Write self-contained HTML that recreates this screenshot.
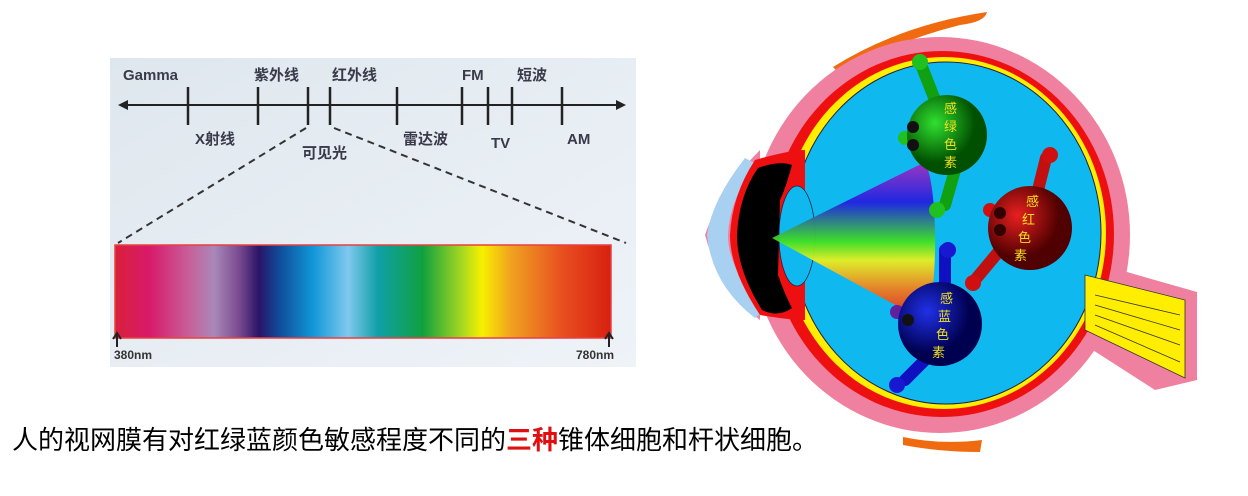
<!DOCTYPE html>
<html><head><meta charset="utf-8"><style>
html,body{margin:0;padding:0;background:#fff;width:1248px;height:496px;overflow:hidden}
svg{position:absolute;left:0;top:0}
.cap{position:absolute;left:12px;top:420px;font:26px "Liberation Sans","Noto Sans CJK SC",sans-serif;color:#000;white-space:nowrap;letter-spacing:0px}
.cap b{color:#e01010}
</style></head><body>
<svg width="1248" height="496" viewBox="0 0 1248 496">
<defs>
<linearGradient id="bg" x1="0" y1="0" x2="1" y2="1"><stop offset="0" stop-color="#dfe7ee"/><stop offset="1" stop-color="#eef3f8"/></linearGradient>
<linearGradient id="spec" x1="0" x2="1">
<stop offset="0" stop-color="#d8203a"/><stop offset=".07" stop-color="#d81a6a"/><stop offset=".15" stop-color="#c8609a"/><stop offset=".2" stop-color="#a888b8"/><stop offset=".25" stop-color="#7a4a90"/><stop offset=".29" stop-color="#2a1468"/><stop offset=".33" stop-color="#104a98"/><stop offset=".4" stop-color="#1098d8"/><stop offset=".47" stop-color="#80c8ee"/><stop offset=".53" stop-color="#10a0a8"/><stop offset=".62" stop-color="#10a040"/><stop offset=".7" stop-color="#a8d820"/><stop offset=".74" stop-color="#f8f000"/><stop offset=".8" stop-color="#f0a020"/><stop offset=".9" stop-color="#e85020"/><stop offset="1" stop-color="#d82010"/></linearGradient>
<linearGradient id="cone" x1="0" y1="0" x2="0" y2="1"><stop offset="0" stop-color="#a030c0"/><stop offset=".25" stop-color="#2020e0"/><stop offset=".5" stop-color="#40e020"/><stop offset=".62" stop-color="#e8f020"/><stop offset=".8" stop-color="#f08020"/><stop offset="1" stop-color="#e02020"/></linearGradient>
<radialGradient id="gG" cx=".35" cy=".35"><stop offset="0" stop-color="#30e030"/><stop offset="1" stop-color="#005000"/></radialGradient>
<radialGradient id="gR" cx=".35" cy=".35"><stop offset="0" stop-color="#e82020"/><stop offset="1" stop-color="#500000"/></radialGradient>
<radialGradient id="gB" cx=".35" cy=".35"><stop offset="0" stop-color="#2030e8"/><stop offset="1" stop-color="#000050"/></radialGradient>
</defs>
<g>
<rect x="110" y="58" width="526" height="309" fill="url(#bg)"/>
<line x1="124" y1="105" x2="620" y2="105" stroke="#222" stroke-width="2"/>
<path d="M118 105 L128 100 L128 110Z M626 105 L616 100 L616 110Z" fill="#222"/>
<g stroke="#222" stroke-width="2.5">
<line x1="188" y1="87" x2="188" y2="125"/><line x1="258" y1="87" x2="258" y2="125"/><line x1="308" y1="87" x2="308" y2="125"/><line x1="330" y1="87" x2="330" y2="125"/><line x1="397" y1="87" x2="397" y2="125"/><line x1="462" y1="87" x2="462" y2="125"/><line x1="488" y1="87" x2="488" y2="125"/><line x1="512" y1="87" x2="512" y2="125"/><line x1="562" y1="87" x2="562" y2="125"/></g>
<g font-family="Liberation Sans,Noto Sans CJK SC,sans-serif" font-size="15" font-weight="bold" fill="#3a3a4a">
<text x="123" y="80">Gamma</text><text x="254" y="80">紫外线</text><text x="332" y="80">红外线</text><text x="462" y="80">FM</text><text x="517" y="80">短波</text>
<text x="195" y="144">X射线</text><text x="302" y="158">可见光</text><text x="403" y="144">雷达波</text><text x="491" y="148">TV</text><text x="567" y="144">AM</text></g>
<g stroke="#333" stroke-width="2" stroke-dasharray="7,5" fill="none"><line x1="306" y1="128" x2="118" y2="243"/><line x1="334" y1="128" x2="626" y2="243"/></g>
<rect x="115" y="245" width="496" height="93" fill="url(#spec)" stroke="#e84040" stroke-width="1.5"/>
<path d="M117 347 V334 M113 339 L117 333 L121 339 M609 347 V334 M605 339 L609 333 L613 339" stroke="#222" stroke-width="2" fill="none"/>
<g font-family="Liberation Sans,sans-serif" font-size="12" font-weight="bold" fill="#333"><text x="114" y="359">380nm</text><text x="576" y="359">780nm</text></g>
</g>
<g>
<path d="M833 67 Q900 25 987 12 Q985 22 960 25 Q900 40 838 72Z" fill="#f06a10"/>
<path d="M903 437 Q940 445 982 440 L980 452 Q940 452 903 445Z" fill="#f06a10"/>
<path d="M1085 260 L1197 292 L1197 380 L1155 390 L1085 345Z" fill="#f080a0"/>
<ellipse cx="940" cy="235" rx="190" ry="198" fill="#f080a0"/>
<path d="M760 150 Q720 190 705 235 Q720 290 760 320Z" fill="#f080a0"/>
<ellipse cx="942" cy="234" rx="172" ry="183" fill="#ee1010"/>
<ellipse cx="944" cy="233" rx="162" ry="176" fill="#ffee00"/>
<ellipse cx="946" cy="233" rx="155" ry="171" fill="#10b8f0" stroke="#224" stroke-width="1"/>
<path d="M1085 275 L1185 300 L1185 378 L1085 330Z" fill="#ffee00" stroke="#333" stroke-width="0.8"/>
<g stroke="#333" stroke-width="0.8"><line x1="1095" y1="295" x2="1180" y2="315"/><line x1="1095" y1="305" x2="1180" y2="330"/><line x1="1095" y1="315" x2="1180" y2="345"/><line x1="1095" y1="325" x2="1180" y2="362"/></g>
<path d="M745 158 Q712 200 707 235 Q712 285 755 318 L765 310 Q728 270 728 235 Q730 195 758 165Z" fill="#a8d0f0"/>
<path d="M755 160 Q790 150 805 150 L805 320 Q790 320 760 315 Q730 270 730 235 Q732 195 755 160Z" fill="#ee1010"/>
<path d="M758 168 Q780 160 792 165 Q785 190 780 200 L778 275 Q785 295 792 308 Q778 318 762 310 Q737 270 737 235 Q739 195 758 168Z" fill="#000"/>
<ellipse cx="797" cy="236" rx="18" ry="50" fill="#10b8f0" stroke="#224" stroke-width="0.8"/>
<path d="M772 238 L923 163 A12 78 0 0 1 923 320Z" fill="url(#cone)" opacity="0.95"/>
<g>
<path d="M920 62 L935 100 M955 170 L945 205" stroke="#10a010" stroke-width="12" stroke-linecap="round"/>
<circle cx="920" cy="62" r="8" fill="#20c020"/><circle cx="937" cy="210" r="8" fill="#20c020"/><circle cx="905" cy="138" r="7" fill="#20c020"/>
<circle cx="947" cy="135" r="40" fill="url(#gG)"/>
<circle cx="913" cy="127" r="6" fill="#111"/><circle cx="913" cy="145" r="6" fill="#111"/>
<g font-family="Noto Sans CJK SC,sans-serif" font-size="13" fill="#f0e020"><text x="944" y="113">感</text><text x="944" y="131">绿</text><text x="944" y="149">色</text><text x="944" y="167">素</text></g></g>
<g>
<path d="M1046 158 L1038 190 M1000 250 L975 280" stroke="#c01010" stroke-width="12" stroke-linecap="round"/>
<circle cx="1050" cy="155" r="8" fill="#d01010"/><circle cx="973" cy="283" r="8" fill="#d01010"/><circle cx="990" cy="210" r="7" fill="#d01010"/>
<circle cx="1030" cy="228" r="42" fill="url(#gR)"/>
<circle cx="1000" cy="213" r="6" fill="#300"/><circle cx="1000" cy="230" r="6" fill="#300"/>
<g font-family="Noto Sans CJK SC,sans-serif" font-size="13" fill="#f0e020"><text x="1026" y="206">感</text><text x="1022" y="224">红</text><text x="1018" y="242">色</text><text x="1014" y="260">素</text></g></g>
<g>
<path d="M945 250 L945 285 M925 360 L905 380" stroke="#1010c0" stroke-width="12" stroke-linecap="round"/>
<circle cx="948" cy="250" r="8" fill="#1818d0"/><circle cx="897" cy="385" r="8" fill="#1818d0"/><circle cx="897" cy="312" r="7" fill="#6020a0"/>
<circle cx="940" cy="324" r="42" fill="url(#gB)"/>
<circle cx="908" cy="320" r="6" fill="#111"/>
<g font-family="Noto Sans CJK SC,sans-serif" font-size="13" fill="#f0e020"><text x="940" y="303">感</text><text x="938" y="321">蓝</text><text x="936" y="339">色</text><text x="932" y="357">素</text></g></g>
</g>
</svg>
<div class="cap">人的视网膜有对红绿蓝颜色敏感程度不同的<b>三种</b>锥体细胞和杆状细胞。</div>
</body></html>
